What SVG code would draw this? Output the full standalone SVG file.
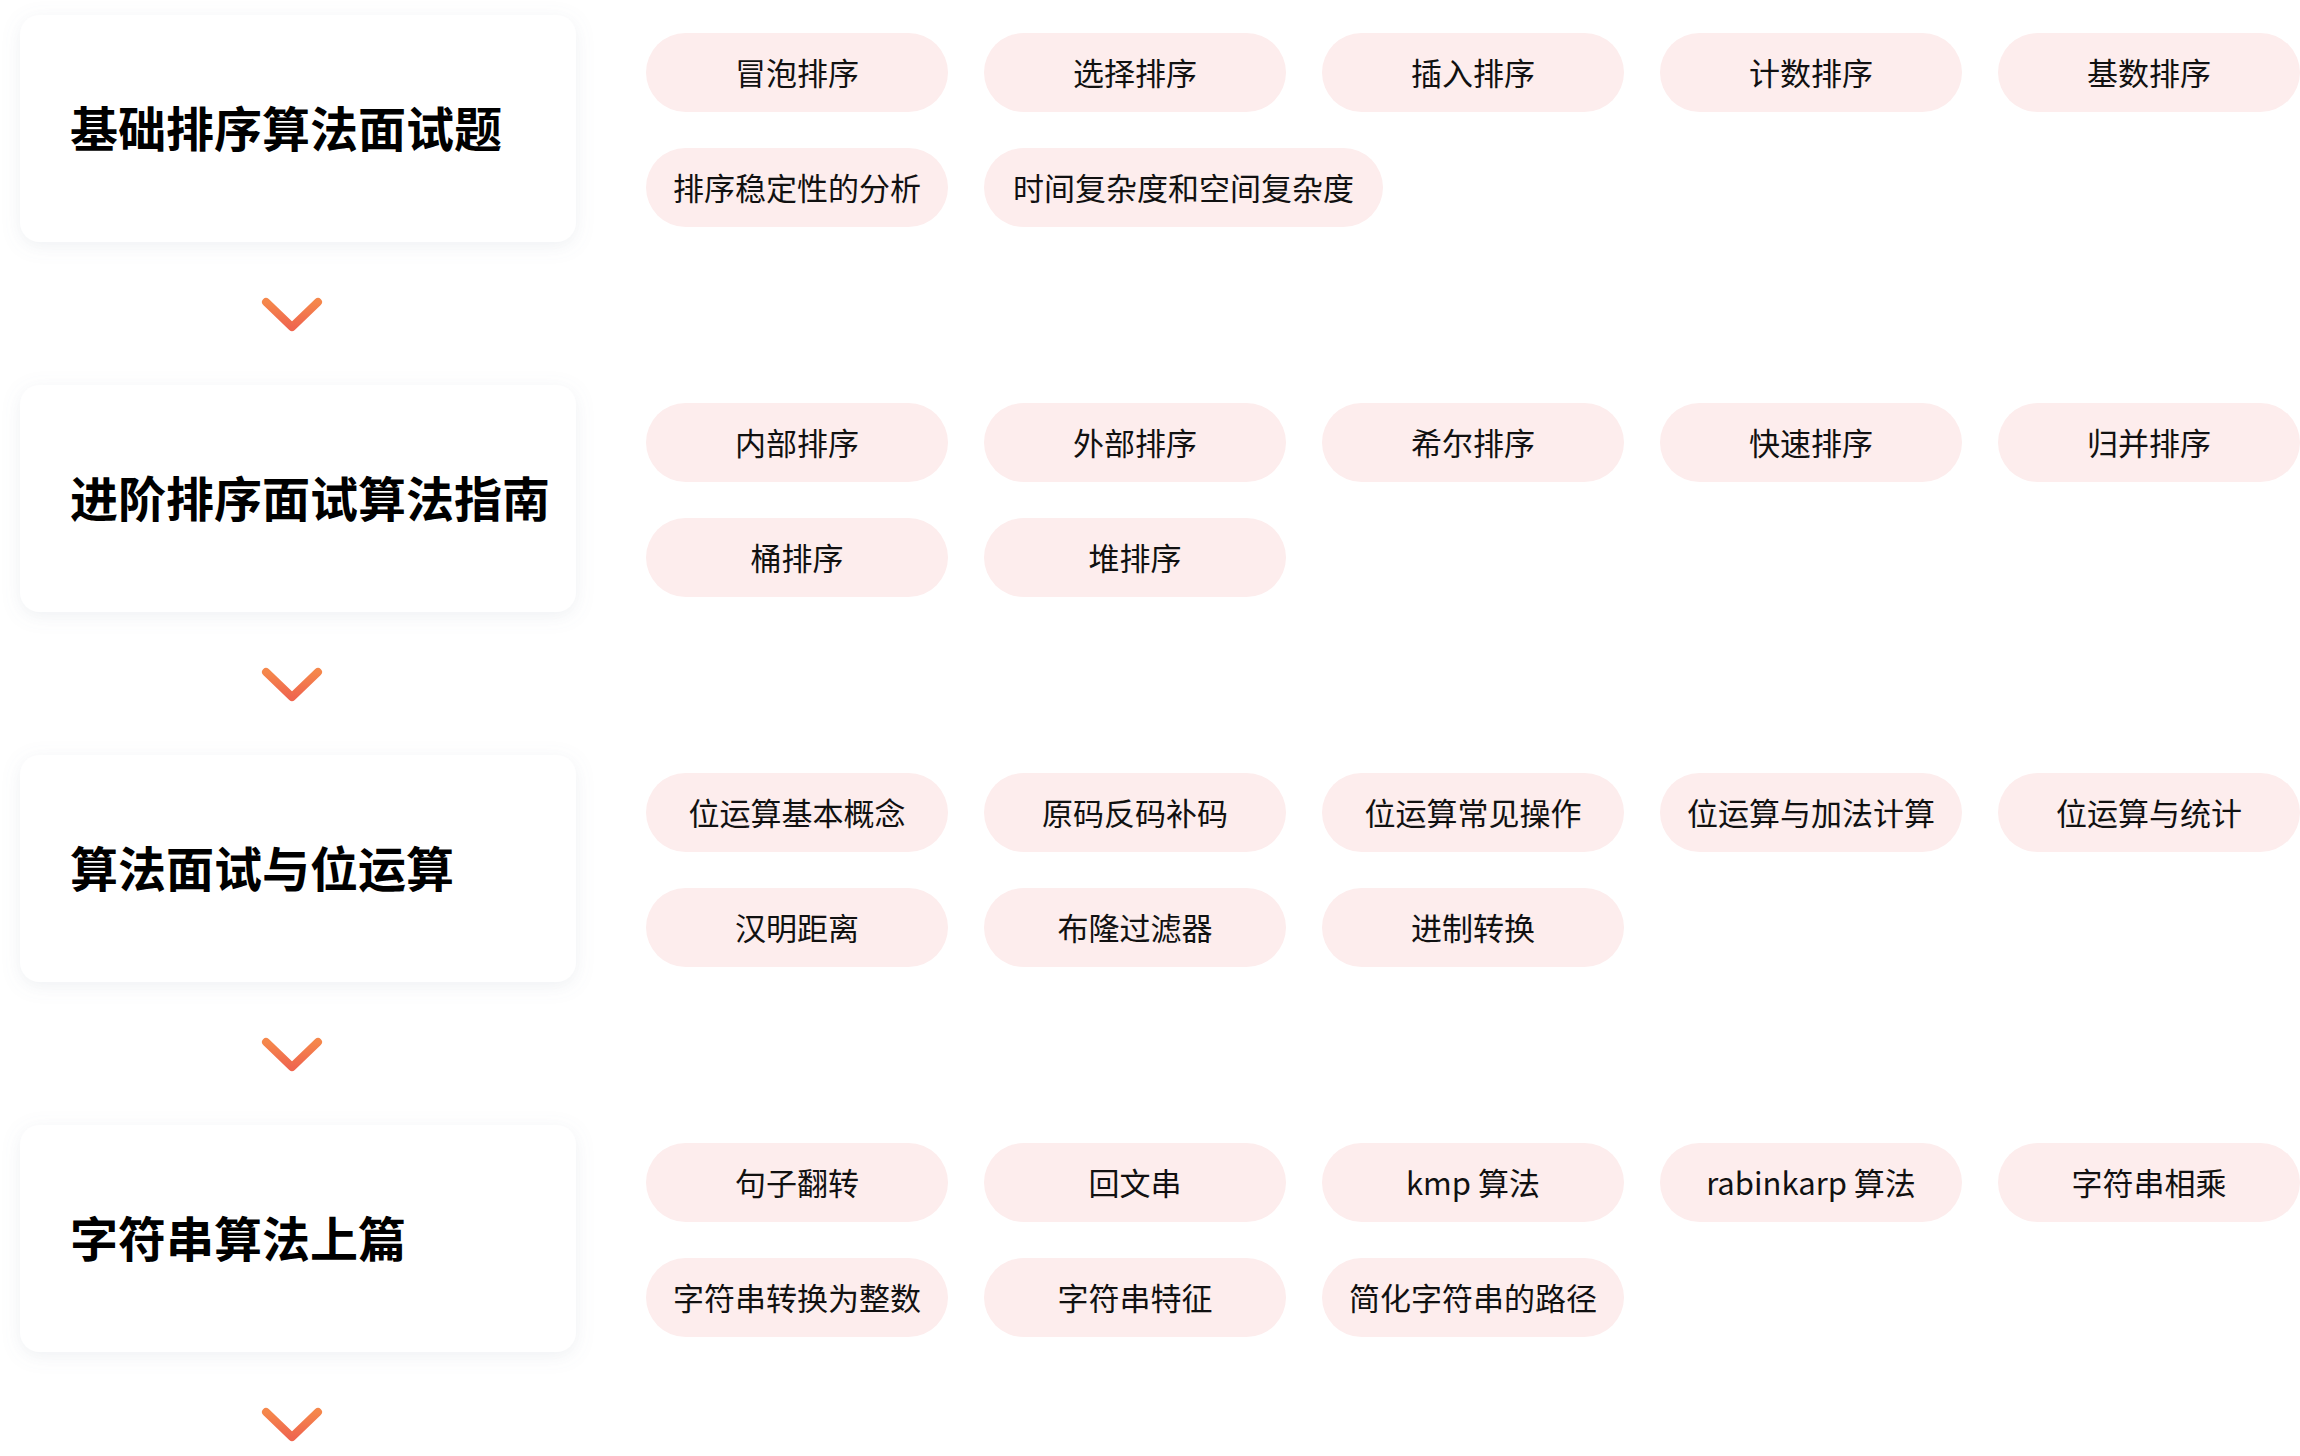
<svg xmlns="http://www.w3.org/2000/svg" width="2300" height="1456" viewBox="0 0 2300 1456">
<defs>
<filter id="shadow" x="-20%" y="-30%" width="140%" height="160%">
<feDropShadow dx="0" dy="4" stdDeviation="9" flood-color="#7d8ca3" flood-opacity="0.13"/>
</filter>
<linearGradient id="chev" x1="0" y1="0" x2="0" y2="1">
<stop offset="0" stop-color="#F5874B"/>
<stop offset="1" stop-color="#EF664F"/>
</linearGradient>
</defs>
<style>
.card{fill:#ffffff;filter:url(#shadow);}
.title{font-family:"Noto Sans CJK SC","Noto Sans",sans-serif;font-size:48px;font-weight:700;fill:#000000;dominant-baseline:central;}
.pill{fill:#FDEDED;}
.pt{font-family:"Noto Sans CJK SC","Noto Sans",sans-serif;font-size:31px;fill:#111111;text-anchor:middle;dominant-baseline:central;}
.chev{fill:none;stroke:url(#chev);stroke-width:8;stroke-linecap:round;stroke-linejoin:round;}
</style>
<rect width="2300" height="1456" fill="#ffffff"/>

<g id="connectors">
<path class="chev" d="M266 302 L292 327 L318 302"/>
<path class="chev" d="M266 672 L292 697 L318 672"/>
<path class="chev" d="M266 1042 L292 1067 L318 1042"/>
<path class="chev" d="M266 1412 L292 1437 L318 1412"/>
</g>

<g id="card1">
<rect class="card" x="20" y="15" width="556" height="227" rx="20"/>
<text class="title" x="70" y="126">基础排序算法面试题</text>
</g>
<g id="card2">
<rect class="card" x="20" y="385" width="556" height="227" rx="20"/>
<text class="title" x="70" y="496">进阶排序面试算法指南</text>
</g>
<g id="card3">
<rect class="card" x="20" y="755" width="556" height="227" rx="20"/>
<text class="title" x="70" y="866">算法面试与位运算</text>
</g>
<g id="card4">
<rect class="card" x="20" y="1125" width="556" height="227" rx="20"/>
<text class="title" x="70" y="1236">字符串算法上篇</text>
</g>

<g id="c1p1"><rect class="pill" x="646" y="33" width="302" height="79" rx="39.5"/><text class="pt" x="797" y="71">冒泡排序</text></g>
<g id="c1p2"><rect class="pill" x="984" y="33" width="302" height="79" rx="39.5"/><text class="pt" x="1135" y="71">选择排序</text></g>
<g id="c1p3"><rect class="pill" x="1322" y="33" width="302" height="79" rx="39.5"/><text class="pt" x="1473" y="71">插入排序</text></g>
<g id="c1p4"><rect class="pill" x="1660" y="33" width="302" height="79" rx="39.5"/><text class="pt" x="1811" y="71">计数排序</text></g>
<g id="c1p5"><rect class="pill" x="1998" y="33" width="302" height="79" rx="39.5"/><text class="pt" x="2149" y="71">基数排序</text></g>
<g id="c1p6"><rect class="pill" x="646" y="148" width="302" height="79" rx="39.5"/><text class="pt" x="797" y="186">排序稳定性的分析</text></g>
<g id="c1p7"><rect class="pill" x="984" y="148" width="399" height="79" rx="39.5"/><text class="pt" x="1183.5" y="186">时间复杂度和空间复杂度</text></g>

<g id="c2p1"><rect class="pill" x="646" y="403" width="302" height="79" rx="39.5"/><text class="pt" x="797" y="441">内部排序</text></g>
<g id="c2p2"><rect class="pill" x="984" y="403" width="302" height="79" rx="39.5"/><text class="pt" x="1135" y="441">外部排序</text></g>
<g id="c2p3"><rect class="pill" x="1322" y="403" width="302" height="79" rx="39.5"/><text class="pt" x="1473" y="441">希尔排序</text></g>
<g id="c2p4"><rect class="pill" x="1660" y="403" width="302" height="79" rx="39.5"/><text class="pt" x="1811" y="441">快速排序</text></g>
<g id="c2p5"><rect class="pill" x="1998" y="403" width="302" height="79" rx="39.5"/><text class="pt" x="2149" y="441">归并排序</text></g>
<g id="c2p6"><rect class="pill" x="646" y="518" width="302" height="79" rx="39.5"/><text class="pt" x="797" y="556">桶排序</text></g>
<g id="c2p7"><rect class="pill" x="984" y="518" width="302" height="79" rx="39.5"/><text class="pt" x="1135" y="556">堆排序</text></g>

<g id="c3p1"><rect class="pill" x="646" y="773" width="302" height="79" rx="39.5"/><text class="pt" x="797" y="811">位运算基本概念</text></g>
<g id="c3p2"><rect class="pill" x="984" y="773" width="302" height="79" rx="39.5"/><text class="pt" x="1135" y="811">原码反码补码</text></g>
<g id="c3p3"><rect class="pill" x="1322" y="773" width="302" height="79" rx="39.5"/><text class="pt" x="1473" y="811">位运算常见操作</text></g>
<g id="c3p4"><rect class="pill" x="1660" y="773" width="302" height="79" rx="39.5"/><text class="pt" x="1811" y="811">位运算与加法计算</text></g>
<g id="c3p5"><rect class="pill" x="1998" y="773" width="302" height="79" rx="39.5"/><text class="pt" x="2149" y="811">位运算与统计</text></g>
<g id="c3p6"><rect class="pill" x="646" y="888" width="302" height="79" rx="39.5"/><text class="pt" x="797" y="926">汉明距离</text></g>
<g id="c3p7"><rect class="pill" x="984" y="888" width="302" height="79" rx="39.5"/><text class="pt" x="1135" y="926">布隆过滤器</text></g>
<g id="c3p8"><rect class="pill" x="1322" y="888" width="302" height="79" rx="39.5"/><text class="pt" x="1473" y="926">进制转换</text></g>

<g id="c4p1"><rect class="pill" x="646" y="1143" width="302" height="79" rx="39.5"/><text class="pt" x="797" y="1181">句子翻转</text></g>
<g id="c4p2"><rect class="pill" x="984" y="1143" width="302" height="79" rx="39.5"/><text class="pt" x="1135" y="1181">回文串</text></g>
<g id="c4p3"><rect class="pill" x="1322" y="1143" width="302" height="79" rx="39.5"/><text class="pt" x="1473" y="1181">kmp 算法</text></g>
<g id="c4p4"><rect class="pill" x="1660" y="1143" width="302" height="79" rx="39.5"/><text class="pt" x="1811" y="1181">rabinkarp 算法</text></g>
<g id="c4p5"><rect class="pill" x="1998" y="1143" width="302" height="79" rx="39.5"/><text class="pt" x="2149" y="1181">字符串相乘</text></g>
<g id="c4p6"><rect class="pill" x="646" y="1258" width="302" height="79" rx="39.5"/><text class="pt" x="797" y="1296">字符串转换为整数</text></g>
<g id="c4p7"><rect class="pill" x="984" y="1258" width="302" height="79" rx="39.5"/><text class="pt" x="1135" y="1296">字符串特征</text></g>
<g id="c4p8"><rect class="pill" x="1322" y="1258" width="302" height="79" rx="39.5"/><text class="pt" x="1473" y="1296">简化字符串的路径</text></g>
</svg>
